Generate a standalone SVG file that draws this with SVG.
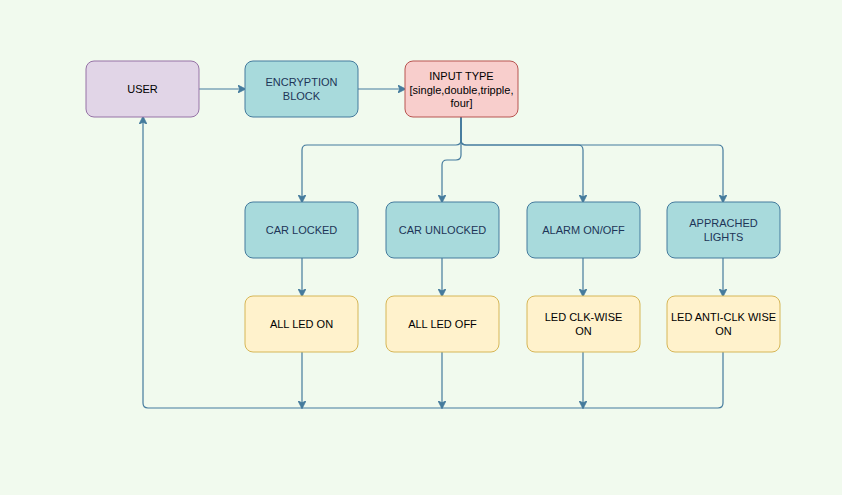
<svg xmlns="http://www.w3.org/2000/svg" width="842" height="495" viewBox="0 0 842 495">
<defs>
<marker id="arr" viewBox="0 0 10 10" refX="9" refY="5" markerWidth="8" markerHeight="8" markerUnits="userSpaceOnUse" orient="auto">
<path d="M0,0 L10,5 L0,10 L2.5,5 Z" fill="#457B9D" stroke="#457B9D" stroke-width="1"/>
</marker>
<style>
.edge{fill:none;stroke:#457B9D;stroke-width:1.2}
.ea{marker-end:url(#arr)}
.teal{fill:#A8DADC;stroke:#457B9D;stroke-width:1}
.purple{fill:#E1D5E7;stroke:#9673A6;stroke-width:1}
.pink{fill:#F8CECC;stroke:#B85450;stroke-width:1}
.yellow{fill:#FFF2CC;stroke:#D6B656;stroke-width:1}
text{font-family:"Liberation Sans",Arial,sans-serif;font-size:11px;text-anchor:middle;dominant-baseline:central}
.dk{fill:#1D3557}
.bk{fill:#000000}
</style>
</defs>
<rect width="842" height="495" fill="#F1FAEE"/>
<g id="connectors">
<path class="edge ea" d="M199,89 H245"/>
<path class="edge ea" d="M358,89 H405"/>
<path class="edge ea" d="M461,117 V140 Q461,145 456,145 H307 Q302,145 302,150 V202"/>
<path class="edge ea" d="M461,117 V155 Q461,160 456,160 H447 Q442,160 442,165 V202"/>
<path class="edge ea" d="M461,117 V140 Q461,145 466,145 H578 Q583,145 583,150 V202"/>
<path class="edge ea" d="M461,117 V140 Q461,145 466,145 H718 Q723,145 723,150 V202"/>
<path class="edge ea" d="M302,258 V296"/>
<path class="edge ea" d="M442,258 V296"/>
<path class="edge ea" d="M583,258 V296"/>
<path class="edge ea" d="M723,258 V296"/>
<path class="edge ea" d="M302,352 V408"/>
<path class="edge ea" d="M442,352 V408"/>
<path class="edge ea" d="M583,352 V408"/>
<path class="edge ea" d="M723,352 V403 Q723,408 718,408 H148 Q143,408 143,403 V117"/>
</g>
<g id="user"><rect class="purple" x="86" y="61" width="113" height="56" rx="8"/><text class="bk" x="142.5" y="89">USER</text></g>
<g id="encryption"><rect class="teal" x="245" y="61" width="113" height="56" rx="8"/><text class="dk" x="301.5" y="82">ENCRYPTION</text><text class="dk" x="301.5" y="96">BLOCK</text></g>
<g id="input-type"><rect class="pink" x="405" y="61" width="113" height="56" rx="8"/><text class="bk" x="461.5" y="75.5">INPUT TYPE</text><text class="bk" x="461.5" y="89.5">[single,double,tripple,</text><text class="bk" x="461.5" y="103">four]</text></g>
<g id="car-locked"><rect class="teal" x="245" y="202" width="113" height="56" rx="8"/><text class="dk" x="301.5" y="230">CAR LOCKED</text></g>
<g id="car-unlocked"><rect class="teal" x="386" y="202" width="113" height="56" rx="8"/><text class="dk" x="442.5" y="230">CAR UNLOCKED</text></g>
<g id="alarm"><rect class="teal" x="527" y="202" width="113" height="56" rx="8"/><text class="dk" x="583.5" y="230">ALARM ON/OFF</text></g>
<g id="appr-lights"><rect class="teal" x="667" y="202" width="113" height="56" rx="8"/><text class="dk" x="723.5" y="223">APPRACHED</text><text class="dk" x="723.5" y="237">LIGHTS</text></g>
<g id="all-led-on"><rect class="yellow" x="245" y="296" width="113" height="56" rx="8"/><text class="bk" x="301.5" y="324">ALL LED ON</text></g>
<g id="all-led-off"><rect class="yellow" x="386" y="296" width="113" height="56" rx="8"/><text class="bk" x="442.5" y="324">ALL LED OFF</text></g>
<g id="led-clk"><rect class="yellow" x="527" y="296" width="113" height="56" rx="8"/><text class="bk" x="583.5" y="317">LED CLK-WISE</text><text class="bk" x="583.5" y="331">ON</text></g>
<g id="led-anticlk"><rect class="yellow" x="667" y="296" width="113" height="56" rx="8"/><text class="bk" x="723.5" y="317">LED ANTI-CLK WISE</text><text class="bk" x="723.5" y="331">ON</text></g>
</svg>
